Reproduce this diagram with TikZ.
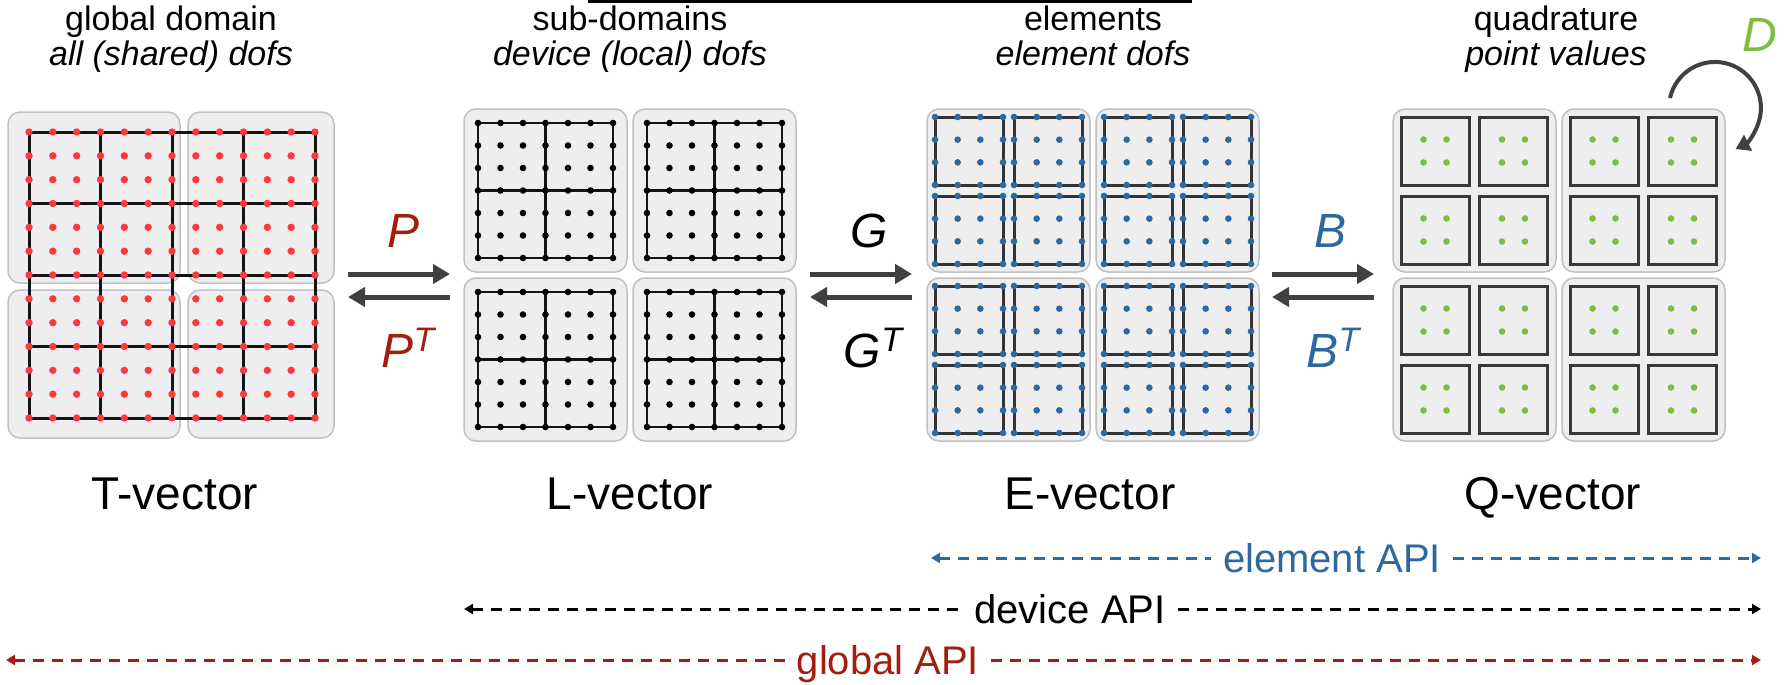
\documentclass[tikz,border=0pt]{standalone}
\usepackage{fontspec}
\setmainfont{Liberation Sans}
\usetikzlibrary{arrows.meta}
\definecolor{dred}{RGB}{163,30,15}
\definecolor{dotred}{RGB}{255,55,55}
\definecolor{eblue}{RGB}{45,105,160}
\definecolor{qgreen}{RGB}{125,190,65}
\definecolor{boxfill}{RGB}{238,238,238}
\definecolor{boxdraw}{RGB}{192,192,192}
\definecolor{arrgray}{RGB}{64,64,64}
\tikzset{
 panelbox/.style={draw=boxdraw, fill=boxfill, line width=1.5pt, rounded corners=12pt},
 tgrid/.style={draw=black!92, line width=3pt},
 lgrid/.style={draw=black!92, line width=2.6pt},
 elembox/.style={draw=black!80, line width=3pt},
 qbox/.style={draw=black!78, line width=3pt},
 bigarrow/.style={draw=arrgray, line width=5pt, -{Triangle[length=17pt,width=19pt]}},
 apiline/.style={line width=3pt, dash pattern=on 11pt off 8pt},
 title/.style={font=\fontsize{34}{40}\selectfont, anchor=base, inner sep=0pt},
 subtitle/.style={font=\fontsize{34}{40}\selectfont\itshape, anchor=base, inner sep=0pt},
 veclabel/.style={font=\fontsize{46}{52}\selectfont, anchor=base, inner sep=0pt},
 oplabel/.style={font=\fontsize{48}{54}\selectfont\itshape, anchor=base, inner sep=0pt},
 apilabel/.style={font=\fontsize{40}{46}\selectfont, text height=29pt, text depth=0pt, inner xsep=12pt, inner ysep=0pt},
}
\newcommand{\supT}{{\fontsize{34}{34}\selectfont\raisebox{16pt}{T}}}
\begin{document}
\begin{tikzpicture}[x=1pt,y=-1pt]
\useasboundingbox (0,0) rectangle (1785,685);
% top rule
\draw[line width=3pt] (588,1.5) -- (1192,1.5);

% ---------- T-vector panel ----------
\path[panelbox] (8,112) rectangle (180,283);
\path[panelbox] (188,112) rectangle (334,283);
\path[panelbox] (8,290) rectangle (180,438);
\path[panelbox] (188,290) rectangle (334,438);
\foreach \i in {0,...,4} {
  \draw[tgrid] (29+71.5*\i,132) -- (29+71.5*\i,418);
  \draw[tgrid] (29,132+71.5*\i) -- (315,132+71.5*\i);
}
\foreach \i in {0,...,12} \foreach \j in {0,...,12}
  \fill[dotred] (29+71.5*\i/3,132+71.5*\j/3) circle[radius=3.7];

% ---------- L-vector panel ----------
\foreach \a in {0,1} \foreach \b in {0,1} {
  \pgfmathsetmacro\pbx{464+169*\a}
  \pgfmathsetmacro\pby{109+169*\b}
  \path[panelbox] (\pbx,\pby) rectangle ++(163,163);
  \foreach \k in {0,1,2} {
    \draw[lgrid] (\pbx+14+67.5*\k,\pby+14) -- ++(0,135);
    \draw[lgrid] (\pbx+14,\pby+14+67.5*\k) -- ++(135,0);
  }
  \foreach \i in {0,...,6} \foreach \j in {0,...,6}
    \fill[black] (\pbx+14+22.5*\i,\pby+14+22.5*\j) circle[radius=3.3];
}

% ---------- E-vector panel ----------
\foreach \a in {0,1} \foreach \b in {0,1} {
  \pgfmathsetmacro\pbx{927+169*\a}
  \pgfmathsetmacro\pby{109+169*\b}
  \path[panelbox] (\pbx,\pby) rectangle ++(163,163);
  \foreach \c in {0,1} \foreach \d in {0,1} {
    \pgfmathsetmacro\pex{\pbx+8+79*\c}
    \pgfmathsetmacro\pey{\pby+8+79*\d}
    \draw[elembox] (\pex,\pey) rectangle ++(68,68);
    \foreach \i in {0,...,3} \foreach \j in {0,...,3}
      \fill[eblue] (\pex+68*\i/3,\pey+68*\j/3) circle[radius=3.3];
  }
}

% ---------- Q-vector panel ----------
\foreach \a in {0,1} \foreach \b in {0,1} {
  \pgfmathsetmacro\pbx{1393+169*\a}
  \pgfmathsetmacro\pby{109+169*\b}
  \path[panelbox] (\pbx,\pby) rectangle ++(163,163);
  \foreach \c in {0,1} \foreach \d in {0,1} {
    \pgfmathsetmacro\pex{\pbx+8+78.5*\c}
    \pgfmathsetmacro\pey{\pby+8+79*\d}
    \draw[qbox] (\pex,\pey) rectangle ++(68,68);
    \foreach \i in {-1,1} \foreach \j in {-1,1}
      \fill[qgreen] (\pex+34+11.5*\i,\pey+34+11.5*\j) circle[radius=3.3];
  }
}

% ---------- titles ----------
\node[title] (t1) at (171,31) {global domain};
\node[subtitle] (s1) at (171,66) {all (shared) dofs};
\node[title] (t2) at (630,31) {sub-domains};
\node[subtitle] (s2) at (630,66) {device (local) dofs};
\node[title] (t3) at (1093,31) {elements};
\node[subtitle] (s3) at (1093,66) {element dofs};
\node[title] (t4) at (1556,31) {quadrature};
\node[subtitle] (s4) at (1556,66) {point values};

% ---------- vector labels ----------
\node[veclabel] (vT) at (175,509) {T-vector};
\node[veclabel] (vL) at (630,509) {L-vector};
\node[veclabel] (vE) at (1090,509) {E-vector};
\node[veclabel] (vQ) at (1553,509) {Q-vector};

% ---------- operators ----------
\coordinate (P1) at (348,274); \coordinate (P2) at (450,274);
\coordinate (P3) at (450,297); \coordinate (P4) at (348,297);
\draw[bigarrow] (P1) -- (P2);
\draw[bigarrow] (P3) -- (P4);
\node[oplabel, text=dred] (lP) at (404,247) {P};
\node[oplabel, text=dred] (lPT) at (408,367) {P\supT};

\coordinate (G1) at (810,274); \coordinate (G2) at (912,274);
\coordinate (G3) at (912,297); \coordinate (G4) at (810,297);
\draw[bigarrow] (G1) -- (G2);
\draw[bigarrow] (G3) -- (G4);
\node[oplabel] (lG) at (869,247) {G};
\node[oplabel] (lGT) at (873,367) {G\supT};

\coordinate (B1) at (1272,274); \coordinate (B2) at (1374,274);
\coordinate (B3) at (1374,297); \coordinate (B4) at (1272,297);
\draw[bigarrow] (B1) -- (B2);
\draw[bigarrow] (B3) -- (B4);
\node[oplabel, text=eblue] (lB) at (1330,247) {B};
\node[oplabel, text=eblue] (lBT) at (1333,367) {B\supT};

\node[oplabel, text=qgreen] (lD) at (1760,52) {D};
\coordinate (Ds) at (1670,98);
\draw[draw=arrgray, line width=4pt, -{Triangle[length=14pt,width=17pt]}] (Ds) arc[start angle=192.5, end angle=423.4, radius=46];

% ---------- API ranges ----------
\coordinate (elL) at (931,558); \coordinate (elR) at (1761,558);
\node[apilabel, text=eblue] (elapi) at (1332,558) {element API};
\draw[apiline, eblue, {Triangle[length=9pt,width=10pt]}-] (elL) -- (elapi);
\draw[apiline, eblue, -{Triangle[length=9pt,width=10pt]}] (elapi) -- (elR);

\coordinate (dvL) at (464,609); \coordinate (dvR) at (1761,609);
\node[apilabel, text=black] (dvapi) at (1070,609) {device API};
\draw[apiline, black, {Triangle[length=9pt,width=10pt]}-] (dvL) -- (dvapi);
\draw[apiline, black, -{Triangle[length=9pt,width=10pt]}] (dvapi) -- (dvR);

\coordinate (glL) at (6,660); \coordinate (glR) at (1761,660);
\node[apilabel, text=dred] (glapi) at (888,660) {global API};
\draw[apiline, dred, {Triangle[length=9pt,width=10pt]}-] (glL) -- (glapi);
\draw[apiline, dred, -{Triangle[length=9pt,width=10pt]}] (glapi) -- (glR);
\end{tikzpicture}
\end{document}
